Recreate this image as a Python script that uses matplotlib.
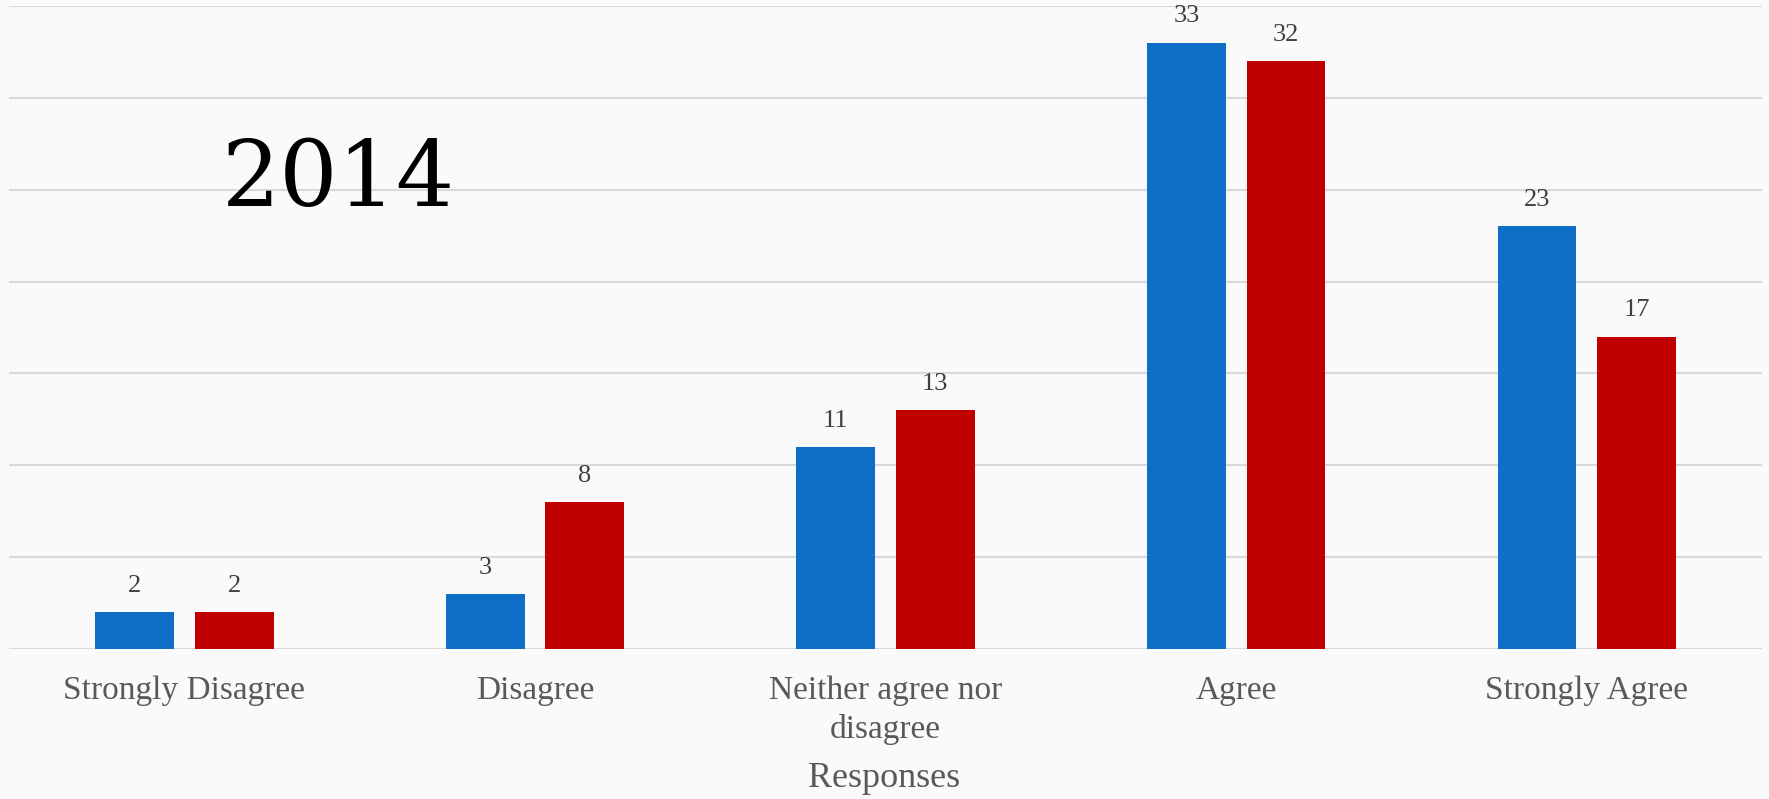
import numpy as np
import matplotlib.pyplot as plt

categories = ["Strongly Disagree", "Disagree", "Neither agree nor\ndisagree", "Agree", "Strongly Agree"]
blue_values = [2, 3, 11, 33, 23]
red_values = [2, 8, 13, 32, 17]

plt.rcParams['font.family'] = ['Liberation Serif', 'DejaVu Serif']

fig = plt.figure(figsize=(17.69, 7.99), dpi=100)
fig.patch.set_facecolor('#fafafa')
ax = fig.add_axes([0.0051, 0.1877, 0.9910, 0.8048])
ax.set_facecolor('#fafafa')

x = np.arange(len(categories))
width = 0.225
offset = 0.142
bars_blue = ax.bar(x - offset, blue_values, width, color='#0F6FC6', zorder=3)
bars_red = ax.bar(x + offset, red_values, width, color='#C00000', zorder=3)

# Value labels above bars
for bars in (bars_blue, bars_red):
    for b in bars:
        ax.annotate(str(int(b.get_height())), (b.get_x() + b.get_width() / 2, b.get_height()),
                    xytext=(0, 11), textcoords='offset points', ha='center', va='bottom',
                    fontsize=19, color='#404040')

ax.set_xlim(-0.5, len(categories) - 0.5)
ax.set_ylim(0, 35)
ax.set_yticks(np.arange(0, 36, 5))
ax.yaxis.grid(True, color='#d9d9d9', linewidth=1.5, zorder=0)
ax.set_yticklabels([])
ax.tick_params(axis='y', length=0)
ax.tick_params(axis='x', length=0, pad=19, labelsize=24, labelcolor='#595959')
ax.set_xticks(x)
ax.set_xticklabels(categories, linespacing=1.32)
for s in ax.spines.values():
    s.set_visible(False)

fig.text(0.5, 0.026, "Responses", fontsize=26, color='#595959', ha='center', va='center')

ax.text(0.1216, 0.689, "2014", transform=ax.transAxes, fontsize=66, color='black',
        ha='left', va='baseline', family='DejaVu Serif')

fig.savefig('out.png', dpi=100, facecolor=fig.get_facecolor())
